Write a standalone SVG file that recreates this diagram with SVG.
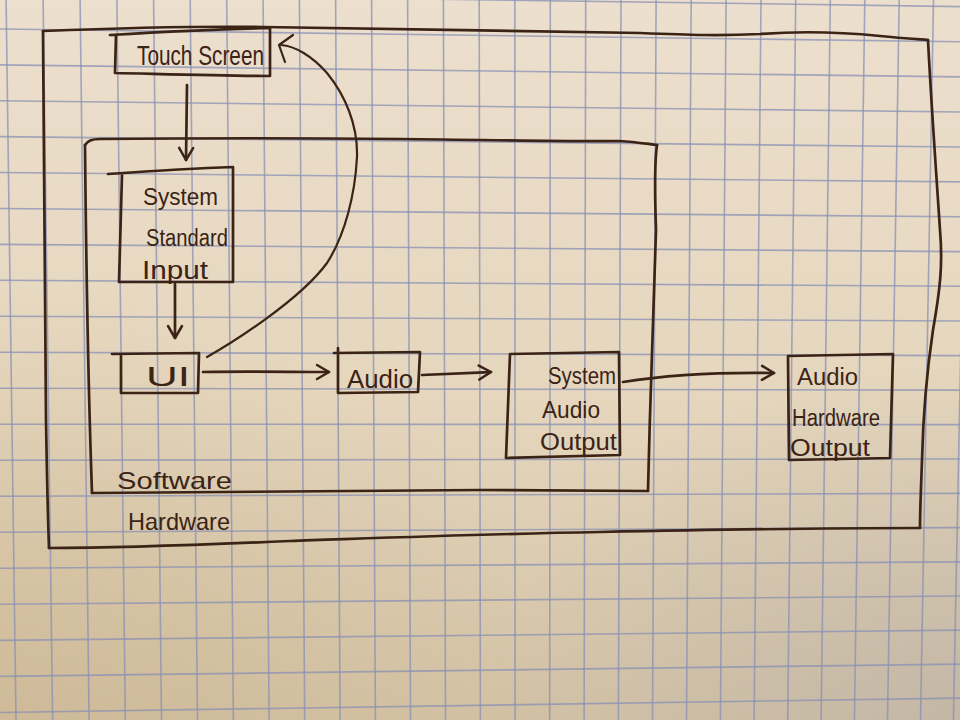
<svg xmlns="http://www.w3.org/2000/svg" width="960" height="720" viewBox="0 0 960 720">
  <defs>
    <linearGradient id="paper" x1="0" y1="0" x2="0" y2="1">
      <stop offset="0" stop-color="#ecdfcd"/>
      <stop offset="0.55" stop-color="#e5d6bd"/>
      <stop offset="1" stop-color="#d3c2a5"/>
    </linearGradient>
    <radialGradient id="shadeBL" cx="0" cy="1" r="0.6">
      <stop offset="0" stop-color="#c9b28a" stop-opacity="0.5"/>
      <stop offset="1" stop-color="#c9b28a" stop-opacity="0"/>
    </radialGradient>
    <radialGradient id="shadeBR" cx="1" cy="1" r="0.5">
      <stop offset="0" stop-color="#b9b0a6" stop-opacity="0.6"/>
      <stop offset="1" stop-color="#b9b0a6" stop-opacity="0"/>
    </radialGradient>
    <marker id="open-v" viewBox="0 0 16 18" refX="14" refY="9" markerWidth="16" markerHeight="18" markerUnits="userSpaceOnUse" orient="auto">
      <path d="M2,2 L14,9 L2,16" fill="none" stroke="#3b2316" stroke-width="2.5" stroke-linecap="round" stroke-linejoin="round"/>
    </marker>
  </defs>
  <style>
    .grid line { stroke: #8890b4; stroke-width: 1.6; stroke-opacity: 0.75; }
    .ink { fill: none; stroke: #3b2316; stroke-width: 2.7; stroke-linecap: round; stroke-linejoin: round; }
    .thin { stroke-width: 2.2; }
    .hand { font-family: "Liberation Sans", "DejaVu Sans", sans-serif; fill: #3b2316; }
  </style>

  <!-- graph paper -->
  <rect x="0" y="0" width="960" height="720" fill="url(#paper)"/>
  <rect x="0" y="0" width="960" height="720" fill="url(#shadeBL)"/>
  <rect x="0" y="0" width="960" height="720" fill="url(#shadeBR)"/>

  <g class="grid">
    <line x1="6.1" y1="0" x2="16.0" y2="720"/>
    <line x1="43.1" y1="0" x2="52.6" y2="720"/>
    <line x1="80.1" y1="0" x2="89.1" y2="720"/>
    <line x1="116.9" y1="0" x2="125.3" y2="720"/>
    <line x1="153.6" y1="0" x2="161.5" y2="720"/>
    <line x1="190.2" y1="0" x2="197.5" y2="720"/>
    <line x1="226.7" y1="0" x2="233.4" y2="720"/>
    <line x1="263.1" y1="0" x2="269.1" y2="720"/>
    <line x1="299.4" y1="0" x2="304.7" y2="720"/>
    <line x1="335.6" y1="0" x2="340.1" y2="720"/>
    <line x1="371.6" y1="0" x2="375.4" y2="720"/>
    <line x1="407.6" y1="0" x2="410.5" y2="720"/>
    <line x1="443.4" y1="0" x2="445.5" y2="720"/>
    <line x1="479.2" y1="0" x2="480.4" y2="720"/>
    <line x1="514.8" y1="0" x2="515.1" y2="720"/>
    <line x1="550.3" y1="0" x2="549.7" y2="720"/>
    <line x1="585.7" y1="0" x2="584.1" y2="720"/>
    <line x1="621.0" y1="0" x2="618.4" y2="720"/>
    <line x1="656.1" y1="0" x2="652.5" y2="720"/>
    <line x1="691.2" y1="0" x2="686.5" y2="720"/>
    <line x1="726.1" y1="0" x2="720.4" y2="720"/>
    <line x1="761.0" y1="0" x2="754.1" y2="720"/>
    <line x1="795.7" y1="0" x2="787.7" y2="720"/>
    <line x1="830.3" y1="0" x2="821.1" y2="720"/>
    <line x1="864.8" y1="0" x2="854.4" y2="720"/>
    <line x1="899.2" y1="0" x2="887.5" y2="720"/>
    <line x1="933.5" y1="0" x2="920.5" y2="720"/>
    <line x1="967.7" y1="0" x2="953.4" y2="720"/>

    <line x1="0" y1="-7" x2="960" y2="6.6"/>
    <line x1="0" y1="29" x2="960" y2="41.8"/>
    <line x1="0" y1="64.9" x2="960" y2="76.9"/>
    <line x1="0" y1="100.7" x2="960" y2="112.0"/>
    <line x1="0" y1="136.6" x2="960" y2="147.0"/>
    <line x1="0" y1="172.5" x2="960" y2="181.9"/>
    <line x1="0" y1="208.45" x2="960" y2="216.8"/>
    <line x1="0" y1="244.4" x2="960" y2="251.6"/>
    <line x1="0" y1="280.3" x2="960" y2="286.3"/>
    <line x1="0" y1="316.3" x2="960" y2="321.0"/>
    <line x1="0" y1="352.2" x2="960" y2="355.6"/>
    <line x1="0" y1="388.2" x2="960" y2="390.1"/>
    <line x1="0" y1="424.2" x2="960" y2="424.6"/>
    <line x1="0" y1="460.2" x2="960" y2="459.0"/>
    <line x1="0" y1="496.2" x2="960" y2="493.4"/>
    <line x1="0" y1="532.2" x2="960" y2="527.6"/>
    <line x1="0" y1="568.25" x2="960" y2="561.85"/>
    <line x1="0" y1="604.3" x2="960" y2="596.0"/>
    <line x1="0" y1="640.4" x2="960" y2="630.1"/>
    <line x1="0" y1="676.4" x2="960" y2="664.1"/>
    <line x1="0" y1="712.5" x2="960" y2="698.1"/>
  </g>

  <!-- hardware boundary -->
  <g id="hardware">
    <path class="ink" d="M43,31 C120,28 200,26 263,27 C380,29 520,31 640,33 C690,35 720,36 760,34 C800,31 840,32 880,36 C900,38 915,39 928,40"/>
    <path class="ink" d="M928,40 C931,100 936,170 940,230 C943,265 940,290 933,330 C927,370 923,420 922,460 C921,490 920,510 920,528"/>
    <path class="ink" d="M920,528 C820,528 700,530 600,532 C480,534 380,538 290,541 C200,545 120,548 49,548"/>
    <path class="ink" d="M43,31 C44,150 45,300 46,420 C47,480 48,520 49,548"/>
    <text class="hand" x="128" y="530" font-size="24" textLength="102" lengthAdjust="spacingAndGlyphs">Hardware</text>
  </g>

  <!-- software boundary -->
  <g id="software">
    <path class="ink" d="M85,145 C88,141 91,139 100,139 C200,138 300,138 400,139 C500,140 580,142 620,141 C635,142 648,144 657,145"/>
    <path class="ink" d="M657,145 C654,165 655,200 656,230 C654,300 650,400 648,491"/>
    <path class="ink" d="M648,491 C560,490 500,490 480,490 C380,492 250,493 92,493"/>
    <path class="ink" d="M85,145 C86,250 88,380 92,493"/>
    <text class="hand" x="117" y="489" font-size="24" textLength="115" lengthAdjust="spacingAndGlyphs">Software</text>
  </g>

  <!-- nodes -->
  <g id="touch-screen">
    <path class="ink" d="M110,35 C160,32 220,29 270,28 L270,76 C220,76 160,74 115,73 L116,35"/>
    <text class="hand" x="137" y="65" font-size="27" textLength="127" lengthAdjust="spacingAndGlyphs">Touch Screen</text>
  </g>

  <g id="system-standard-input">
    <path class="ink" d="M108,174 C150,171 200,168 233,167 L233,282 C190,282 150,282 119,282 L122,175"/>
    <text class="hand" x="143" y="205" font-size="24" textLength="75" lengthAdjust="spacingAndGlyphs">System</text>
    <text class="hand" x="146" y="246" font-size="23" textLength="82" lengthAdjust="spacingAndGlyphs">Standard</text>
    <text class="hand" x="142" y="279" font-size="25" textLength="66" lengthAdjust="spacingAndGlyphs">Input</text>
  </g>

  <g id="ui">
    <path class="ink" d="M112,354 L199,353 L198,393 L121,393 L121,354"/>
    <text class="hand" x="146" y="386" font-size="28" textLength="44" lengthAdjust="spacingAndGlyphs">UI</text>
  </g>

  <g id="audio">
    <path class="ink" d="M338,348 L338,393 L418,392 L420,352 L334,353"/>
    <text class="hand" x="347" y="388" font-size="26" textLength="66" lengthAdjust="spacingAndGlyphs">Audio</text>
  </g>

  <g id="system-audio-output">
    <path class="ink" d="M510,354 L619,352 L620,455 L506,458 Z"/>
    <text class="hand" x="548" y="384" font-size="23" textLength="68" lengthAdjust="spacingAndGlyphs">System</text>
    <text class="hand" x="542" y="418" font-size="24" textLength="58" lengthAdjust="spacingAndGlyphs">Audio</text>
    <text class="hand" x="540" y="450" font-size="24" textLength="77" lengthAdjust="spacingAndGlyphs">Output</text>
  </g>

  <g id="audio-hardware-output">
    <path class="ink" d="M788,356 L893,354 L890,458 L789,460 Z"/>
    <text class="hand" x="797" y="385" font-size="23" textLength="61" lengthAdjust="spacingAndGlyphs">Audio</text>
    <text class="hand" x="792" y="426" font-size="23" textLength="88" lengthAdjust="spacingAndGlyphs">Hardware</text>
    <text class="hand" x="790" y="456" font-size="24" textLength="80" lengthAdjust="spacingAndGlyphs">Output</text>
  </g>

  <!-- connectors -->
  <g id="connectors">
    <path class="ink" d="M187,85 L186,160" marker-end="url(#open-v)"/>
    <path class="ink" d="M175,284 L175,338" marker-end="url(#open-v)"/>
    <path class="ink" d="M203,372 C250,371 290,372 329,372" marker-end="url(#open-v)"/>
    <path class="ink" d="M422,375 C450,374 470,373 491,372" marker-end="url(#open-v)"/>
    <path class="ink" d="M623,382 C660,376 710,372 774,373" marker-end="url(#open-v)"/>
    <path class="ink thin" d="M207,357 C232,343 300,300 327,263 C345,235 355,195 357,157 C358,125 345,95 327,73 C312,56 295,46 281,45"/>
    <path class="ink thin" d="M293,35 L279,45 L285,62"/>
  </g>
</svg>
